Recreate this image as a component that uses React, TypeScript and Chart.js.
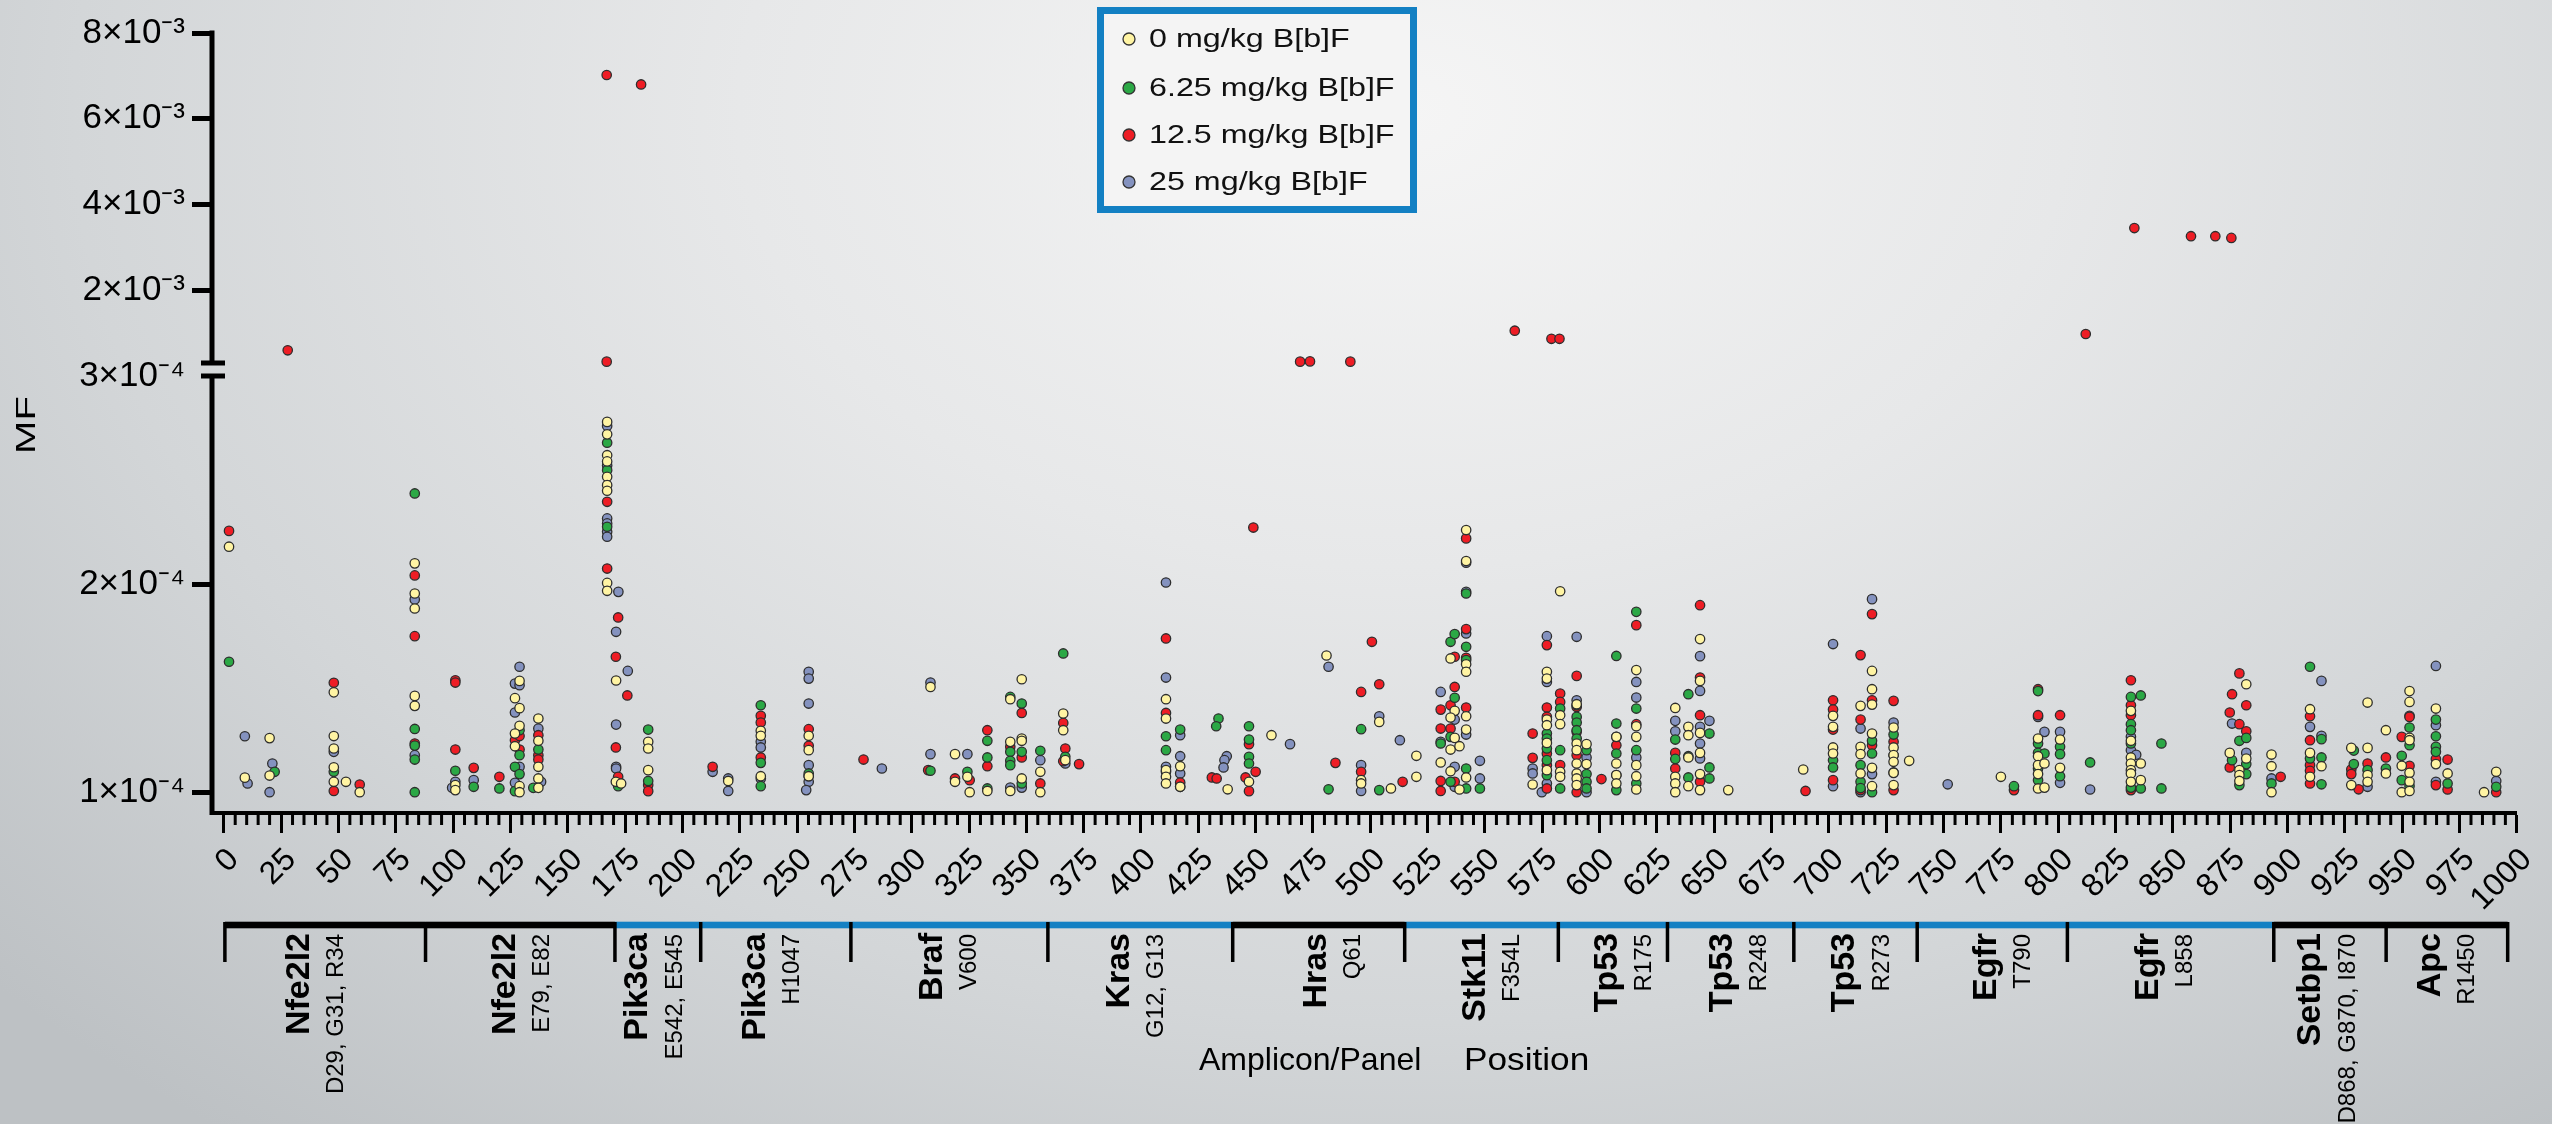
import React, { useEffect, useRef } from 'react';
import { Chart, registerables, LinearScale } from 'chart.js';

const FONT = "'Liberation Sans', Arial, Helvetica, sans-serif";

// ---------------- data ----------------
const doseLabels = ['0 mg/kg B[b]F', '6.25 mg/kg B[b]F', '12.5 mg/kg B[b]F', '25 mg/kg B[b]F'];
const doseColors = ['#fff4a3', '#2ba845', '#ee1d25', '#8492bf'];
const MF_UNIT = 1e-4; // values below are MF in units of 1e-4

// [amplicon/panel position, MF x 1e4]
const mf0: [number, number][] = [
  [2.3, 2.18], [9.2, 1.07], [20, 1.26], [20, 1.08], [48, 1.48], [48, 1.27], [48, 1.21], [48, 1.12], [48, 1.05], [53.3, 1.05], [59.3, 1.0],
  [83.3, 2.1], [83.3, 1.955], [83.3, 1.883], [83.3, 1.463], [83.3, 1.415], [101, 1.034], [101, 1.01],
  [129, 1.535], [127, 1.452], [129, 1.404], [129, 1.319], [127, 1.282], [127, 1.221], [129, 1.029], [129, 1.0],
  [137.2, 1.354], [137.2, 1.247], [137.2, 1.122], [137.2, 1.066], [137.2, 1.021],
  [167.2, 2.78], [167.2, 2.72], [167.2, 2.62], [167.2, 2.59], [167.2, 2.516], [167.2, 2.476], [167.2, 2.449], [167.2, 2.006], [167.2, 1.968],
  [171.1, 1.537], [171, 1.05], [173.3, 1.042], [185.1, 1.242], [185.1, 1.21], [185.1, 1.106], [220, 1.054],
  [234.2, 1.295], [234.2, 1.271], [234.2, 1.077], [255.1, 1.271], [255.1, 1.202], [255.1, 1.077],
  [308.2, 1.506], [318.9, 1.183], [318.9, 1.05], [324.3, 1.074], [325.3, 1.0], [333, 1.006], [343, 1.447], [343, 1.242], [343, 1.006],
  [348, 1.543], [348, 1.258], [348, 1.247], [348, 1.066], [356.1, 1.098], [356.1, 1.0], [366.1, 1.378], [366.1, 1.298], [367, 1.154],
  [410.9, 1.447], [410.9, 1.354], [410.9, 1.106], [410.9, 1.074], [410.9, 1.042], [417.1, 1.125], [417.1, 1.026],
  [437.8, 1.014], [447.1, 1.05], [456.9, 1.274], [480.9, 1.657], [503.9, 1.338], [496, 1.058], [496, 1.042], [509, 1.018], [520.1, 1.175], [520.1, 1.074],
  [535, 1.643], [536.8, 1.391], [535, 1.359], [536.8, 1.261], [535, 1.205], [538.9, 1.221], [530.7, 1.143], [535, 1.101], [538.9, 1.013],
  [541.8, 2.26], [541.8, 2.111], [541.8, 1.615], [541.8, 1.579], [541.8, 1.365], [541.8, 1.301], [541.8, 1.071],
  [570.8, 1.037], [577, 1.579], [577, 1.546], [577, 1.349], [577, 1.322], [577, 1.237], [577, 1.106],
  [582.8, 1.966], [582.8, 1.37], [582.8, 1.327], [582.8, 1.098], [582.8, 1.074],
  [590, 1.423], [590, 1.234], [590, 1.202], [590, 1.138], [590, 1.09], [590, 1.066], [590, 1.034], [594.3, 1.231], [594.3, 1.135],
  [607.3, 1.266], [607.3, 1.138], [607.3, 1.082], [607.3, 1.042], [616, 1.587], [616, 1.317], [616, 1.266], [616, 1.13], [616, 1.077], [616, 1.013],
  [633, 1.405], [633, 1.074], [633, 1.042], [633, 1.0], [638.7, 1.314], [638.7, 1.274], [638.7, 1.167], [638.7, 1.029],
  [643.8, 1.736], [643.8, 1.535], [643.8, 1.285], [643.8, 1.189], [643.8, 1.087], [643.8, 1.01], [656.1, 1.01], [688.8, 1.109],
  [701.8, 1.367], [701.8, 1.314], [701.8, 1.215], [701.8, 1.186],
  [713.8, 1.415], [713.8, 1.218], [713.8, 1.183], [713.8, 1.09], [718.8, 1.583], [718.8, 1.495], [718.8, 1.421], [718.8, 1.282], [718.8, 1.117], [718.8, 1.029],
  [728.2, 1.311], [728.2, 1.215], [728.2, 1.178], [728.2, 1.146], [728.2, 1.093], [728.2, 1.034], [735, 1.151], [775, 1.074],
  [791.2, 1.258], [791.2, 1.173], [791.2, 1.13], [791.2, 1.087], [791.2, 1.018], [794, 1.138], [794, 1.022], [800.8, 1.253], [800.8, 1.117],
  [831.7, 1.391], [831.7, 1.247], [831.7, 1.167], [831.7, 1.138], [831.7, 1.106], [831.7, 1.09], [831.7, 1.05], [836, 1.138], [836, 1.058],
  [882, 1.519], [874.8, 1.189], [882, 1.162], [879, 1.106], [879, 1.082], [879, 1.054], [893, 1.181], [893, 1.125], [893, 1.0],
  [909.8, 1.399], [909.8, 1.189], [909.8, 1.074], [914.8, 1.125], [927.8, 1.213], [927.8, 1.034],
  [934.9, 1.431], [934.9, 1.213], [934.9, 1.082], [934.9, 1.05], [942.9, 1.298], [942.9, 1.09], [949.8, 1.127], [949.8, 1.0],
  [953.2, 1.486], [953.2, 1.434], [953.2, 1.261], [953.2, 1.25], [953.2, 1.093], [953.2, 1.05], [953.2, 1.006],
  [964.7, 1.402], [964.7, 1.135], [969.8, 1.09], [985.7, 1.0], [991, 1.098],
];

const mf625: [number, number][] = [
  [2.3, 1.627], [22.2, 1.098], [48, 1.098], [83.3, 2.436], [83.3, 1.304], [83.3, 1.224], [83.3, 1.157], [83.3, 1.0], [101, 1.103], [109, 1.026], [120.2, 1.018],
  [129, 1.298], [129, 1.178], [127, 1.122], [129, 1.087], [127, 1.005],
  [137.2, 1.205], [135, 1.021], [167.2, 2.548], [167.2, 2.68], [167.2, 2.276], [172, 1.029], [185.1, 1.301], [185.1, 1.054],
  [234.2, 1.418], [234.2, 1.141], [234.2, 1.029], [255.1, 1.09],
  [308.2, 1.103], [324.3, 1.098], [333, 1.247], [333, 1.167], [333, 1.018], [343, 1.458], [343, 1.194], [343, 1.151], [343, 1.13],
  [348, 1.426], [348, 1.194], [348, 1.042], [356.1, 1.199], [366.1, 1.667], [367, 1.17], [410.9, 1.269], [410.9, 1.202], [417.1, 1.301], [417.1, 1.026],
  [433.8, 1.354], [432.8, 1.317], [447.1, 1.317], [447.1, 1.253], [447.1, 1.17], [447.1, 1.138], [481.8, 1.014], [496, 1.303], [503.9, 1.01],
  [535, 1.723], [536.8, 1.76], [536.8, 1.454], [535, 1.266], [530.7, 1.234], [535, 1.05],
  [541.8, 1.955], [541.8, 1.699], [541.8, 1.635], [541.8, 1.114], [541.8, 1.018], [547.8, 1.018],
  [577, 1.282], [577, 1.258], [577, 1.21], [577, 1.154], [577, 1.082], [582.8, 1.402], [582.8, 1.202], [582.8, 1.018],
  [590, 1.418], [590, 1.362], [590, 1.335], [590, 1.298], [590, 1.258], [594.3, 1.202], [594.3, 1.087], [594.3, 1.05], [594.3, 1.018],
  [607.3, 1.655], [607.3, 1.33], [607.3, 1.186], [607.3, 1.01], [616, 1.867], [616, 1.402], [616, 1.202], [616, 1.042],
  [633, 1.253], [633, 1.16], [638.7, 1.471], [638.7, 1.173], [638.7, 1.071], [647.9, 1.282], [647.9, 1.119], [647.9, 1.066],
  [701.8, 1.154], [701.8, 1.119],
  [713.8, 1.13], [713.8, 1.05], [713.8, 1.02], [718.8, 1.247], [718.8, 1.186], [718.8, 1.0], [728.2, 1.277], [728.2, 1.095], [780.7, 1.029],
  [791.2, 1.486], [791.2, 1.234], [791.2, 1.189], [791.2, 1.114], [791.2, 1.058], [794, 1.186], [800.8, 1.218], [800.8, 1.183], [800.8, 1.077], [813.9, 1.143],
  [831.7, 1.458], [836, 1.465], [831.7, 1.327], [831.7, 1.298], [831.7, 1.234], [831.7, 1.022], [836, 1.018], [845, 1.234], [845, 1.018],
  [879, 1.247], [882, 1.261], [875.8, 1.154], [882, 1.135], [882, 1.087], [879, 1.034], [893, 1.042],
  [909.8, 1.603], [909.8, 1.162], [914.8, 1.255], [914.8, 1.167], [914.8, 1.038], [928.9, 1.135], [928.9, 1.2], [934.9, 1.106], [942.9, 1.114],
  [949.8, 1.175], [949.8, 1.058], [953.2, 1.311], [953.2, 1.226], [953.2, 1.03],
  [964.7, 1.349], [964.7, 1.269], [964.7, 1.218], [964.7, 1.194], [969.8, 1.042], [991, 1.026],
];

const mf125: [number, number][] = [
  [2.3, 2.256], [48, 1.526], [48, 1.006], [59.3, 1.037], [83.3, 2.042], [83.3, 1.75], [83.3, 1.234], [101, 1.538], [101, 1.527], [101, 1.205],
  [109, 1.117], [120.2, 1.074], [127, 1.25], [129, 1.27], [129, 1.205],
  [137.2, 1.274], [137.2, 1.178], [137.2, 1.157], [167.2, 2.396], [167.2, 2.075], [172, 1.84], [171, 1.651], [176, 1.465], [171, 1.215], [172, 1.074],
  [185.1, 1.034], [185.1, 1.005], [213.2, 1.122], [234.2, 1.367], [234.2, 1.335], [234.2, 1.167], [255.1, 1.303], [255.1, 1.223], [255.1, 1.077], [279, 1.157],
  [307.2, 1.106], [318.9, 1.066], [325.3, 1.058], [333, 1.298], [333, 1.125], [343, 1.218], [348, 1.381], [348, 1.167], [356.1, 1.042],
  [366.1, 1.333], [367, 1.21], [366.1, 1.149], [373, 1.135], [410.9, 1.739], [410.9, 1.381], [410.9, 1.098], [417.1, 1.046],
  [430.9, 1.071], [433, 1.066], [447.1, 1.231], [450, 1.098], [445.6, 1.071], [447.1, 1.005], [449, 2.272], [484.8, 1.141],
  [500.7, 1.723], [503.9, 1.519], [496, 1.482], [496, 1.098], [514.1, 1.05],
  [536.8, 1.506], [536.8, 1.651], [530.7, 1.397], [535, 1.418], [530.7, 1.306], [535, 1.306], [530.7, 1.054], [536.8, 1.05], [530.7, 1.006],
  [541.8, 2.22], [541.8, 1.784], [541.8, 1.646], [541.8, 1.407],
  [570.8, 1.282], [570.8, 1.165], [577, 1.707], [577, 1.407], [577, 1.362], [577, 1.186], [577, 1.13], [577, 1.018],
  [582.8, 1.474], [582.8, 1.434], [582.8, 1.13], [590, 1.559], [590, 1.41], [590, 1.29], [590, 1.178], [590, 1.0], [600.8, 1.063],
  [607.3, 1.266], [607.3, 1.226], [607.3, 1.082], [616, 1.803], [616, 1.327], [633, 1.189], [633, 1.114],
  [643.8, 1.899], [643.8, 1.551], [643.8, 1.37], [643.8, 1.05], [689.8, 1.006], [701.8, 1.442], [701.8, 1.397], [701.8, 1.301], [701.8, 1.058],
  [713.8, 1.659], [713.8, 1.349], [713.8, 1.01], [718.8, 1.856], [718.8, 1.442], [718.8, 1.226], [728.2, 1.439], [728.2, 1.242], [728.2, 1.01],
  [780.7, 1.01], [791.2, 1.495], [791.2, 1.37], [800.8, 1.37], [831.7, 1.538], [831.7, 1.418], [831.7, 1.37], [831.7, 1.01],
  [879, 1.571], [875.8, 1.471], [882, 1.418], [874.8, 1.383], [879, 1.327], [882, 1.293], [874.8, 1.119], [897, 1.074],
  [909.8, 1.365], [909.8, 1.25], [909.8, 1.13], [909.8, 1.103], [909.8, 1.042], [927.8, 1.109], [927.8, 1.087], [931, 1.014],
  [934.9, 1.138], [942.9, 1.167], [949.8, 1.266], [953.2, 1.362], [953.2, 1.127], [964.7, 1.159], [964.7, 1.034], [969.8, 1.157], [969.8, 1.013], [991, 1.0],
  // above the axis break
  [27.9, 5.98], [167, 70.2], [182, 68.0], [167, 3.34], [469.4, 3.34], [473.7, 3.4], [491.3, 3.34],
  [563, 10.56], [579, 8.67], [582.5, 8.67], [812, 9.79], [833.2, 34.5], [857.9, 32.6], [868.5, 32.6], [875.5, 32.2],
];

const mf25: [number, number][] = [
  [9.2, 1.269], [10.4, 1.042], [21.2, 1.138], [20, 1.0], [48, 1.194], [83.3, 1.926], [83.3, 1.178], [101, 1.05], [99.6, 1.021], [109, 1.058],
  [129, 1.603], [127, 1.522], [129, 1.514], [127, 1.383], [129, 1.122], [127, 1.045],
  [137.2, 1.306], [138.4, 1.05], [167.2, 2.76], [167.2, 2.57], [167.2, 2.316], [167.2, 2.292], [167.2, 2.252], [167.2, 2.228],
  [172.1, 1.963], [171.1, 1.771], [176.2, 1.583], [171.1, 1.325], [171.1, 1.122], [171.1, 1.114], [213.2, 1.098], [220, 1.066], [220, 1.006],
  [234.2, 1.242], [234.2, 1.215], [234.2, 1.066], [255.1, 1.579], [255.1, 1.546], [255.1, 1.426], [255.1, 1.13], [255.1, 1.05], [254, 1.01],
  [287, 1.114], [308.2, 1.527], [308.2, 1.183], [324.3, 1.183], [343, 1.022], [348, 1.022], [356.1, 1.154], [367, 1.138],
  [410.9, 2.008], [410.9, 1.551], [410.9, 1.122], [417.1, 1.274], [417.1, 1.173], [417.1, 1.09],
  [437.4, 1.173], [436.4, 1.154], [436, 1.119], [465, 1.231], [481.8, 1.603], [503.9, 1.365], [496, 1.13], [496, 1.006], [512.9, 1.25],
  [530.7, 1.482], [536.8, 1.349], [530.7, 1.242], [536.8, 1.122], [536.8, 1.026], [541.8, 2.103], [541.8, 1.963], [541.8, 1.763], [541.8, 1.277],
  [547.8, 1.151], [547.8, 1.066],
  [570.8, 1.114], [570.8, 1.09], [574.8, 1.0], [577, 1.75], [577, 1.53], [577, 1.042], [590, 1.747], [590, 1.442], [594.3, 1.167], [594.3, 1.0],
  [616, 1.53], [616, 1.455], [616, 1.167], [633, 1.343], [633, 1.293], [643.8, 1.654], [643.8, 1.487], [643.8, 1.314], [643.8, 1.234], [643.8, 1.162],
  [647.9, 1.343], [701.8, 1.712], [701.8, 1.029],
  [713.8, 1.306], [713.8, 1.0], [718.8, 1.928], [718.8, 1.087], [728.2, 1.335], [728.2, 1.178], [751.8, 1.038],
  [791.2, 1.362], [794, 1.29], [800.8, 1.29], [800.8, 1.045], [813.9, 1.013], [831.7, 1.266], [831.7, 1.202], [834, 1.18],
  [875.8, 1.33], [882, 1.189], [893, 1.066], [909.8, 1.314], [914.8, 1.535], [914.8, 1.271], [934.9, 1.026],
  [953.2, 1.367], [964.7, 1.607], [964.7, 1.322], [964.7, 1.05], [991, 1.054],
];

const doseSeries = [mf0, mf625, mf125, mf25];

// axes
const xTickValues = Array.from({ length: 41 }, (_, i) => i * 25);
const yTickValues = [1e-4, 2e-4, 3e-4, 2e-3, 4e-3, 6e-3, 8e-3];
const yTickLabels = ['1×10⁻⁴', '2×10⁻⁴', '3×10⁻⁴', '2×10⁻³', '4×10⁻³', '6×10⁻³', '8×10⁻³'];

// amplicon / panel annotation
const panelBounds = [0.5, 88, 170.6, 208, 273.5, 359.4, 440, 515, 582, 629.6, 684.7, 738.5, 804, 894, 943, 996];
const panelGenes = ['Nfe2l2', 'Nfe2l2', 'Pik3ca', 'Pik3ca', 'Braf', 'Kras', 'Hras', 'Stk11', 'Tp53', 'Tp53', 'Tp53', 'Egfr', 'Egfr', 'Setbp1', 'Apc'];
const panelVariants = ['D29, G31, R34', 'E79, E82', 'E542, E545', 'H1047', 'V600', 'G12, G13', 'Q61', 'F354L', 'R175', 'R248', 'R273', 'T790', 'L858', 'D868, G870, I870', 'R1450'];
const panelLabelPos = [33.1, 122.9, 180.6, 231.9, 309, 390.7, 476.6, 546, 603.3, 653.6, 707, 768.7, 839.4, 910.2, 962.3];
const panelBarColor = ['#000', '#000', '#1380c3', '#1380c3', '#1380c3', '#1380c3', '#000', '#1380c3', '#1380c3', '#1380c3', '#1380c3', '#1380c3', '#1380c3', '#000', '#000'];

// ---------------- broken y scale ----------------
const LOW_MIN = 0.9e-4;
const BREAK = 3e-4;
const HIGH_MAX = 8e-3;
const F_LOW = 0.5601;
const F_GAP = 0.0167;

class BrokenScale extends LinearScale {
  static id = 'brokenY';
  static defaults = LinearScale.defaults;
  getPixelForValue(value: any) {
    if (value === null || value === undefined || isNaN(value)) return NaN;
    let dec;
    if (value <= BREAK) dec = ((value - LOW_MIN) / (BREAK - LOW_MIN)) * F_LOW;
    else dec = F_LOW + F_GAP + ((value - BREAK) / (HIGH_MAX - BREAK)) * (1 - F_LOW - F_GAP);
    return this.getPixelForDecimal(dec);
  }
  getValueForPixel(pixel: number) {
    const dec = this.getDecimalForPixel(pixel);
    if (dec <= F_LOW) return LOW_MIN + (dec / F_LOW) * (BREAK - LOW_MIN);
    return BREAK + ((dec - F_LOW - F_GAP) / (1 - F_LOW - F_GAP)) * (HIGH_MAX - BREAK);
  }
}

Chart.register(...registerables, BrokenScale);

// ---------------- decoration plugin ----------------
const decorPlugin = {
  id: 'decor',
  afterDraw(chart: any) {
    const ctx = chart.ctx;
    const xs = chart.scales.x;
    const ys = chart.scales.y;
    const ca = chart.chartArea;
    ctx.save();

    // y axis with break
    const lowTop = ys.getPixelForDecimal(F_LOW);
    const upBottom = ys.getPixelForDecimal(F_LOW + F_GAP);
    const yTop = ys.getPixelForValue(HIGH_MAX);
    ctx.strokeStyle = '#000';
    ctx.lineWidth = 5;
    ctx.beginPath();
    ctx.moveTo(ca.left, ca.bottom + 2);
    ctx.lineTo(ca.left, lowTop);
    ctx.moveTo(ca.left, upBottom);
    ctx.lineTo(ca.left, yTop - 2.5);
    ctx.stroke();
    ctx.beginPath();
    ctx.moveTo(ca.left - 11, lowTop);
    ctx.lineTo(ca.left + 13, lowTop);
    ctx.moveTo(ca.left - 11, upBottom);
    ctx.lineTo(ca.left + 13, upBottom);
    ctx.stroke();

    // minor x ticks
    ctx.lineWidth = 3;
    ctx.beginPath();
    for (let v = 5; v < 1000; v += 5) {
      if (v % 25 === 0) continue;
      const px = xs.getPixelForValue(v);
      ctx.moveTo(px, ca.bottom);
      ctx.lineTo(px, ca.bottom + 12);
    }
    ctx.stroke();

    // panel labels (drawn first so the bar overlaps long variant texts)
    const barY = ca.bottom + 112;
    ctx.fillStyle = '#000';
    ctx.textBaseline = 'middle';
    ctx.textAlign = 'right';
    for (let i = 0; i < panelGenes.length; i++) {
      const px = xs.getPixelForValue(panelLabelPos[i]);
      ctx.save();
      ctx.translate(px, barY + 8);
      ctx.rotate(-Math.PI / 2);
      ctx.font = `bold 34px ${FONT}`;
      ctx.fillText(panelGenes[i], 0, 0);
      ctx.restore();
      ctx.save();
      ctx.translate(px + 37, barY + 9);
      ctx.rotate(-Math.PI / 2);
      ctx.font = `24px ${FONT}`;
      ctx.fillText(panelVariants[i], 0, 0);
      ctx.restore();
    }

    // panel bar
    for (let i = 0; i < panelGenes.length; i++) {
      const x1 = xs.getPixelForValue(panelBounds[i]);
      const x2 = xs.getPixelForValue(panelBounds[i + 1]);
      ctx.fillStyle = panelBarColor[i];
      ctx.fillRect(x1, barY - 3.3, x2 - x1, 6.6);
    }
    ctx.lineWidth = 3.5;
    ctx.strokeStyle = '#000';
    ctx.beginPath();
    for (const b of panelBounds) {
      const px = xs.getPixelForValue(b);
      ctx.moveTo(px, barY - 3);
      ctx.lineTo(px, barY + 37);
    }
    ctx.stroke();

    // x axis title
    ctx.fillStyle = '#000';
    ctx.textAlign = 'left';
    ctx.textBaseline = 'alphabetic';
    ctx.font = `32px ${FONT}`;
    ctx.fillText('Amplicon/Panel', 1199, 1070);
    ctx.save();
    ctx.translate(1464, 1070);
    ctx.scale(1.1, 1);
    ctx.fillText('Position', 0, 0);
    ctx.restore();

    // y axis title
    ctx.save();
    ctx.translate(27, 425);
    ctx.rotate(-Math.PI / 2);
    ctx.scale(1.43, 1);
    ctx.font = `28px ${FONT}`;
    ctx.textAlign = 'center';
    ctx.textBaseline = 'middle';
    ctx.fillText('MF', 0, 0);
    ctx.restore();

    // legend
    const lx = 1100.5, ly = 10.5, lw = 313, lh = 199;
    ctx.fillStyle = 'rgba(244,244,244,0.9)';
    ctx.fillRect(lx, ly, lw, lh);
    ctx.strokeStyle = '#1380c3';
    ctx.lineWidth = 7;
    ctx.strokeRect(lx, ly, lw, lh);
    const rows = [39, 88, 135, 182];
    chart.data.datasets.forEach((ds: any, i: number) => {
      const cy = rows[i];
      ctx.beginPath();
      ctx.arc(1129, cy, 6, 0, Math.PI * 2);
      ctx.fillStyle = ds.backgroundColor;
      ctx.fill();
      ctx.lineWidth = 1.3;
      ctx.strokeStyle = '#333';
      ctx.stroke();
      ctx.save();
      ctx.translate(1149, cy + 1);
      ctx.scale(1.26, 1);
      ctx.fillStyle = '#111';
      ctx.font = `25.6px ${FONT}`;
      ctx.textAlign = 'left';
      ctx.textBaseline = 'middle';
      ctx.fillText(ds.label, 0, 0);
      ctx.restore();
    });

    ctx.restore();
  },
};

export default function App() {
  const ref = useRef<HTMLCanvasElement | null>(null);

  useEffect(() => {
    if (!ref.current) return;
    const datasets = doseSeries.map((series, i) => ({
      label: doseLabels[i],
      data: series.map(([x, m]) => ({ x, y: m * MF_UNIT })),
      backgroundColor: doseColors[i],
      borderColor: '#2e2e2e',
      borderWidth: 1.3,
      pointRadius: 4.7,
      pointHoverRadius: 4.7,
    }));

    const chart = new Chart(ref.current, {
      type: 'scatter',
      data: { datasets },
      options: {
        animation: false,
        responsive: false,
        devicePixelRatio: 1,
        events: [],
        layout: { padding: { top: 33, right: 24, left: 0, bottom: 0 } },
        plugins: { legend: { display: false }, tooltip: { enabled: false } },
        scales: {
          x: {
            type: 'linear',
            bounds: 'data',
            min: -5.12,
            max: 1000,
            afterBuildTicks: (s: any) => {
              s.ticks = xTickValues.map((v) => ({ value: v }));
            },
            afterFit: (s: any) => {
              s.height = 311;
            },
            border: { display: true, color: '#000', width: 4 },
            grid: { drawOnChartArea: false, drawTicks: true, tickLength: 20, tickWidth: 3, tickColor: '#000' },
            ticks: {
              autoSkip: false,
              minRotation: 45,
              maxRotation: 45,
              padding: 8,
              labelOffset: 10,
              color: '#000',
              font: { family: FONT, size: 32 },
              callback: (v: any) => String(v),
            },
          },
          y: {
            type: 'brokenY' as any,
            bounds: 'data',
            min: LOW_MIN,
            max: HIGH_MAX,
            afterBuildTicks: (s: any) => {
              s.ticks = yTickValues.map((v) => ({ value: v }));
            },
            afterFit: (s: any) => {
              s.width = 212;
            },
            border: { display: false },
            grid: {
              drawOnChartArea: false,
              drawTicks: true,
              tickLength: 20,
              tickWidth: 5,
              tickColor: (c: any) => (c.tick && c.tick.value === BREAK ? 'rgba(0,0,0,0)' : '#000'),
            },
            ticks: {
              autoSkip: false,
              padding: 7,
              color: '#000',
              font: { family: FONT, size: 35 },
              callback: (_v: any, i: number) => yTickLabels[i],
            },
          },
        },
      },
      plugins: [decorPlugin],
    } as any);

    return () => chart.destroy();
  }, []);

  return (
    <div
      style={{
        position: 'fixed',
        left: 0,
        top: 0,
        width: 2552,
        height: 1124,
        background:
          'radial-gradient(ellipse 1900px 1300px at 55% 10%, #f5f5f5 0%, #e7e8e9 35%, #d3d6d8 70%, #bdc1c4 100%)',
      }}
    >
      <canvas ref={ref} width={2552} height={1124} style={{ width: 2552, height: 1124, display: 'block' }} />
    </div>
  );
}
